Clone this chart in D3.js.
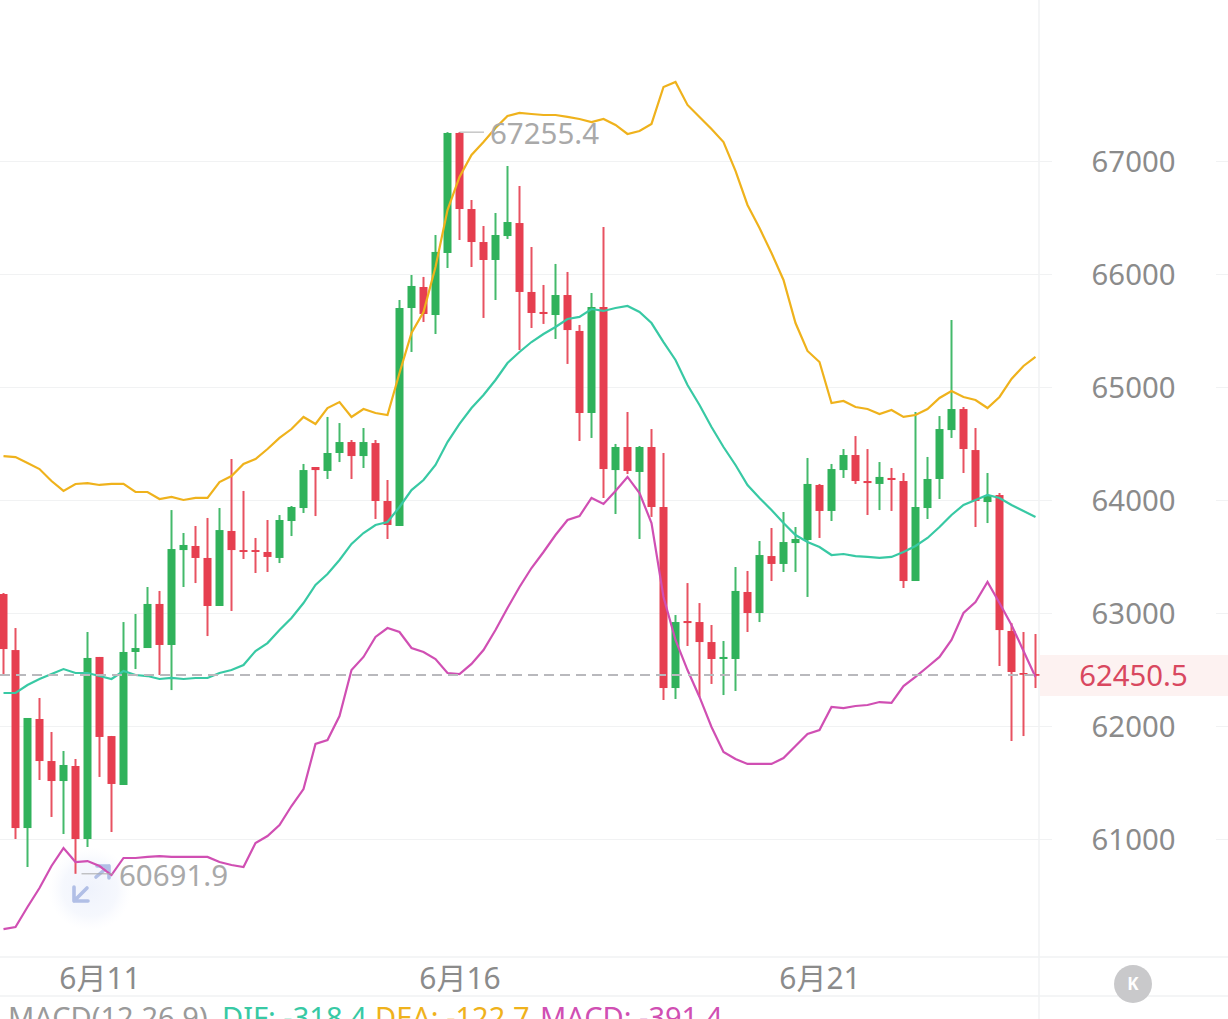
<!DOCTYPE html>
<html>
<head>
<meta charset="utf-8">
<script src="https://cdn.jsdelivr.net/npm/d3@7/dist/d3.min.js"></script>
<style>
html,body{margin:0;padding:0;background:#fff;overflow:hidden}
svg{display:block}
text{font-family:"Noto Sans","Noto Sans CJK SC",sans-serif}
</style>
</head>
<body>
<svg id="chart" width="1228" height="1019"></svg>
<script>
// BTC 4-hour candles with Bollinger bands
const opens = [63168,62672,61097,62062,61690,61513,61646,61000,62611,61911,61478,62655,62690,63080,62717,63557,63593,63487,63062,63726,63557,63557,63540,63487,63814,63929,64292,64257,64416,64513,64389,64504,63991,63770,65699,65885,65637,66186,67248,66575,66283,66124,66336,66451,65841,65664,65637,65814,65496,64770,65708,64265,64469,64248,64469,63938,62336,62929,62920,62743,62593,62593,63186,63000,63504,63434,63619,63646,64133,63903,64265,64398,64168,64142,64195,64168,63283,63929,64186,64619,64805,64442,63982,64044,62841,62469,62460];
const highs = [63177,62867,62071,62248,61947,61779,61708,62832,62611,61912,62920,62991,63230,63195,63911,63708,63770,63841,63929,64363,64080,63664,63823,63867,63947,64319,64292,64735,64681,64531,64637,64531,64177,65770,65991,65974,66345,67255.4,67255.4,66655,66425,66540,66956,66779,66239,65903,66089,66018,65549,65832,66416,64496,64779,64478,64628,64416,62982,63265,63088,62894,62752,63407,63372,63637,63752,63894,63761,64372,64142,64319,64451,64566,64451,64336,64283,64239,64779,64381,64743,65593,64823,64637,64239,64062,62911,62832,62814];
const lows = [62451,61000,60752,61522,61195,61044,60691.9,60929,61549,61062,61478,62504,62690,62451,62318,63230,63265,62796,63062,63018,63478,63354,63363,63442,63681,63885,63858,64186,64336,64186,64283,63832,63655,63770,65310,65575,65469,66053,66301,66062,65611,65770,66310,65327,65522,65558,65425,65204,64522,64549,64018,63876,64230,63655,63850,62230,62239,62708,62257,62372,62274,62310,62832,62920,63283,63363,63363,63142,63664,63814,64195,64142,63867,63911,63903,63221,63283,63832,64009,64549,64239,63761,63796,62531,61867,61911,62336];
const closes = [62681,61097,62071,61690,61513,61655,61000,62602,61903,61487,62655,62690,63080,62717,63566,63602,63487,63062,63734,63557,63540,63540,63496,63823,63938,64265,64265,64416,64513,64389,64513,63991,63779,65699,65894,65646,66195,67248,66575,66283,66124,66345,66460,65841,65655,65646,65814,65504,64770,65708,64274,64469,64257,64469,63938,62336,62920,62911,62743,62593,62611,63195,63000,63513,63434,63628,63655,64142,63903,64274,64398,64168,64150,64204,64177,63283,63938,64186,64628,64805,64451,63991,64035,62849,62478,62460,62450.5];

const upperBand = [64389,64380,64327,64274,64168,64080,64142,64150,64133,64142,64142,64071,64071,64009,64027,64000,64018,64018,64159,64212,64319,64363,64451,64549,64628,64735,64673,64814,64867,64735,64805,64770,64752,65124,65478,65664,66062,66566,66859,67053,67168,67292,67398,67425,67416,67407,67407,67390,67372,67345,67372,67319,67239,67266,67328,67655,67699,67496,67390,67283,67168,66912,66611,66407,66186,65947,65566,65319,65221,64858,64876,64823,64805,64761,64796,64735,64752,64805,64903,64965,64912,64885,64814,64912,65071,65186,65266];
const midBand = [62292,62292,62363,62416,62460,62504,62469,62469,62442,62416,62487,62451,62442,62416,62425,62416,62425,62425,62469,62495,62540,62664,62734,62849,62956,63088,63248,63345,63469,63611,63708,63779,63805,63938,64088,64177,64310,64513,64673,64814,64929,65062,65212,65310,65398,65469,65531,65602,65620,65690,65673,65699,65717,65664,65566,65398,65239,65018,64841,64646,64469,64310,64133,64018,63911,63796,63690,63628,63584,63513,63522,63504,63496,63487,63496,63540,63593,63664,63761,63867,63956,64000,64044,64018,63956,63903,63850];
const lowerBand = [60203,60221,60398,60566,60761,60920,60796,60805,60761,60681,60832,60832,60841,60849,60841,60841,60841,60841,60796,60770,60752,60964,61026,61124,61292,61442,61841,61876,62088,62495,62611,62788,62867,62832,62690,62655,62593,62469,62460,62549,62672,62849,63044,63230,63398,63540,63690,63823,63858,64018,63965,64080,64204,64062,63796,63142,62761,62495,62257,61991,61770,61708,61664,61664,61664,61717,61823,61929,61964,62168,62159,62177,62186,62212,62204,62354,62434,62522,62611,62761,63000,63097,63274,63088,62894,62664,62434];

const priceTicks = [61000,62000,63000,64000,65000,66000,67000];
const dateTicks = [8,38,68];
const dateLabels = ["6月11","6月16","6月21"];
const lastPrice = 62450.5;
const highPoint = {index:38, value:67255.4};
const lowPoint = {index:6, value:60691.9};
const macdLegend = [
  {text:"MACD(12,26,9)", color:"#9a9a9a", x:8},
  {text:"DIF: -318.4", color:"#38c9a4", x:222},
  {text:"DEA: -122.7", color:"#efb21c", x:375},
  {text:"MACD: -391.4", color:"#d04fb3", x:540}
];

const RED = "#e63f50", GREEN = "#30b25b", GRID = "#f1f2f3";
const svg = d3.select("#chart");
const x = d3.scaleLinear().domain([0,86]).range([3.5,1035.5]);
const y = d3.scaleLinear().domain([61000,67000]).range([839,161]);

// Plot frame: right-hand rail and the two rules around the date row
svg.append("rect").attr("x",1040).attr("y",655).attr("width",188).attr("height",41).attr("fill","#fdf2f1");
svg.append("line").attr("x1",1039).attr("x2",1039).attr("y1",0).attr("y2",1019).attr("stroke",GRID).attr("stroke-width",1.5);
[957,996].forEach(v => svg.append("line").attr("x1",0).attr("x2",1228).attr("y1",v).attr("y2",v).attr("stroke",GRID).attr("stroke-width",1.5));

// Horizontal grid, plus the short stubs at the far right edge
const grid = svg.append("g").attr("class","grid").call(d3.axisRight(y).tickValues(priceTicks).tickSize(1052).tickFormat(""));
grid.select(".domain").remove();
grid.selectAll("line").attr("stroke",GRID).attr("stroke-width",1);
const stub = svg.append("g").attr("transform","translate(1216,0)").call(d3.axisRight(y).tickValues(priceTicks).tickSize(12).tickFormat(""));
stub.select(".domain").remove();
stub.selectAll("line").attr("stroke",GRID).attr("stroke-width",1);

// Price axis labels
const yAxis = svg.append("g").attr("transform","translate(1133.5,0)").call(d3.axisRight(y).tickValues(priceTicks).tickSize(0).tickPadding(0).tickFormat(d3.format("d")));
yAxis.select(".domain").remove();
yAxis.selectAll("text").attr("text-anchor","middle").attr("dy","0.37em").attr("font-size",29.3).attr("fill","#8b8b8b");

// Date axis labels
const xAxis = svg.append("g").attr("transform","translate(0,989)").call(d3.axisBottom(x).tickValues(dateTicks).tickSize(0).tickPadding(0).tickFormat((d,i)=>dateLabels[i]));
xAxis.select(".domain").remove();
xAxis.selectAll("text").attr("y",0).attr("dy",0).attr("font-size",30).attr("fill","#8b8b8b").attr("text-anchor","middle");

// Floating expand button, sitting behind the series
const defs = svg.append("defs");
const glow = defs.append("radialGradient").attr("id","btnGlow");
glow.append("stop").attr("offset","0%").attr("stop-color","#e8edfb").attr("stop-opacity",0.7);
glow.append("stop").attr("offset","65%").attr("stop-color","#eef2fc").attr("stop-opacity",0.55);
glow.append("stop").attr("offset","100%").attr("stop-color","#f6f8fe").attr("stop-opacity",0);
svg.append("circle").attr("cx",90).attr("cy",889).attr("r",42).attr("fill","url(#btnGlow)");
const arrowStyle = s => s.attr("fill","none").attr("stroke","#b1bfe6").attr("stroke-width",3.6).attr("stroke-linecap","round").attr("stroke-linejoin","round");
svg.append("path").attr("d","M74 887V901H88M74 901L87 888").call(arrowStyle);
svg.append("path").attr("d","M97 866H109V878M109 866L96 877").call(arrowStyle);

// Candles
const candleData = opens.map((o,i)=>({i,o,h:highs[i],l:lows[i],c:closes[i]}));
const colorOf = d => d.c >= d.o ? GREEN : RED;
const candles = svg.append("g").selectAll("g").data(candleData).join("g");
candles.append("line")
  .attr("x1",d=>x(d.i)).attr("x2",d=>x(d.i))
  .attr("y1",d=>y(d.h)).attr("y2",d=>y(d.l))
  .attr("stroke",colorOf).attr("stroke-width",2).attr("stroke-opacity",0.9);
candles.append("rect")
  .attr("x",d=>x(d.i)-4).attr("width",8)
  .attr("y",d=>Math.min(y(d.o),y(d.c)))
  .attr("height",d=>Math.max(1.8,Math.abs(y(d.o)-y(d.c))))
  .attr("fill",colorOf);

// Bollinger bands
const line = d3.line().x((d,i)=>x(i)).y(d=>y(d));
[[upperBand,"#efb21c"],[midBand,"#38c9a4"],[lowerBand,"#d04fb3"]].forEach(([vals,color])=>{
  svg.append("path").datum(vals).attr("d",line).attr("fill","none").attr("stroke",color).attr("stroke-width",2.2);
});

// Last-price guide and tag
svg.append("line").attr("x1",0).attr("x2",1039).attr("y1",y(lastPrice)).attr("y2",y(lastPrice))
  .attr("stroke","#b9b9bd").attr("stroke-width",2).attr("stroke-dasharray","10 6");
svg.append("text").attr("x",1133.5).attr("y",y(lastPrice)).attr("dy","0.38em").attr("text-anchor","middle")
  .attr("font-size",29.3).attr("fill","#d9485f").text(d3.format(".1f")(lastPrice));

// Extreme-value annotations
const noteColor = "#a9a9a9";
svg.append("line").attr("x1",x(highPoint.index)).attr("x2",484).attr("y1",y(highPoint.value)).attr("y2",y(highPoint.value)).attr("stroke",noteColor).attr("stroke-width",1);
svg.append("text").attr("x",490).attr("y",y(highPoint.value)).attr("dy","0.4em").attr("font-size",29.5).attr("fill",noteColor).text(highPoint.value);
svg.append("line").attr("x1",x(lowPoint.index)+6).attr("x2",113).attr("y1",y(lowPoint.value)).attr("y2",y(lowPoint.value)).attr("stroke",noteColor).attr("stroke-width",1);
svg.append("text").attr("x",119).attr("y",y(lowPoint.value)).attr("dy","0.4em").attr("font-size",29.5).attr("fill",noteColor).text(lowPoint.value);

// Round collapse button
svg.append("circle").attr("cx",1133).attr("cy",984).attr("r",19).attr("fill","#c9c9cb");
svg.append("text").attr("x",1133).attr("y",984).attr("dy","0.36em").attr("text-anchor","middle").attr("font-size",17).attr("font-weight",700).attr("fill","#fff").text("K");

// MACD legend, cut by the bottom edge
svg.append("g").selectAll("text").data(macdLegend).join("text")
  .attr("x",d=>d.x).attr("y",1028).attr("font-size",29).attr("fill",d=>d.color).text(d=>d.text);
</script>
</body>
</html>
